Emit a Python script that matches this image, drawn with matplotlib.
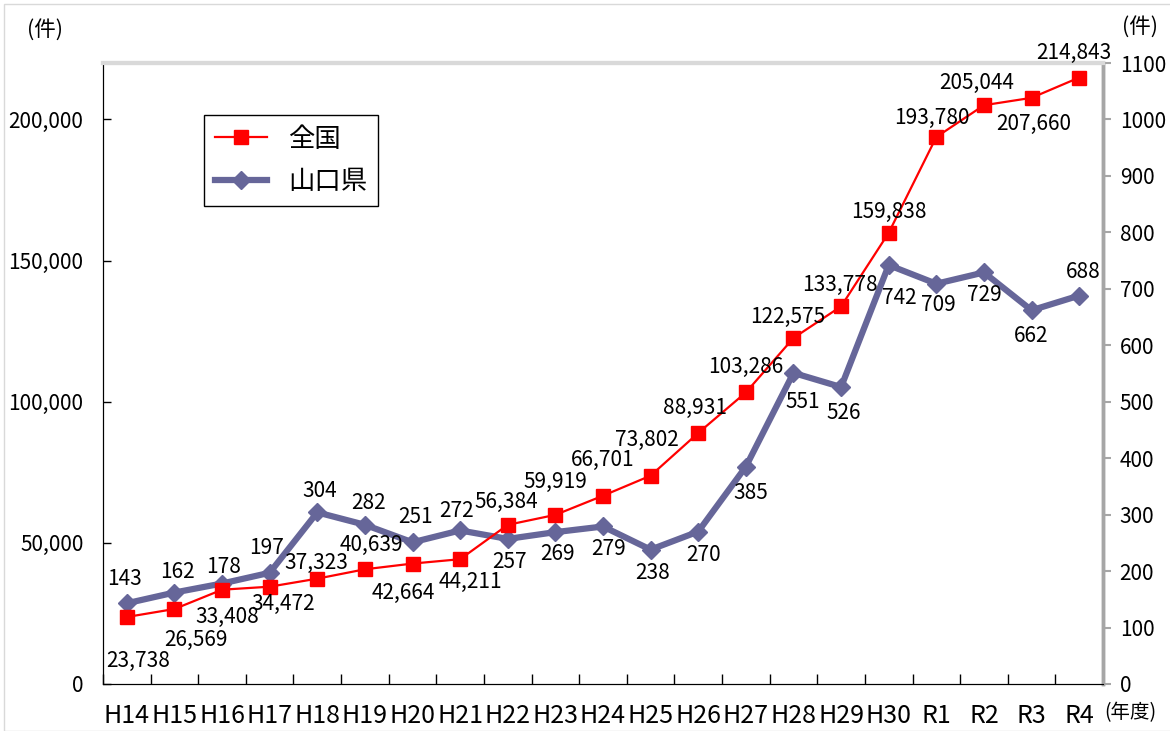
import numpy as np
import matplotlib
matplotlib.use('Agg')
import matplotlib.pyplot as plt
from matplotlib.ticker import FuncFormatter, MultipleLocator
from matplotlib.patches import Rectangle

plt.rcParams['font.family'] = ['Noto Sans CJK JP', 'DejaVu Sans']

#------------------
# data
#------------------
years = ['H14', 'H15', 'H16', 'H17', 'H18', 'H19', 'H20', 'H21', 'H22', 'H23', 'H24',
         'H25', 'H26', 'H27', 'H28', 'H29', 'H30', 'R1', 'R2', 'R3', 'R4']
zenkoku = [23738, 26569, 33408, 34472, 37323, 40639, 42664, 44211, 56384, 59919, 66701,
           73802, 88931, 103286, 122575, 133778, 159838, 193780, 205044, 207660, 214843]
yamaguchi = [143, 162, 178, 197, 304, 282, 251, 272, 257, 269, 279,
             238, 270, 385, 551, 526, 742, 709, 729, 662, 688]

# label offsets in pixels (dx, dy), dy positive = up
zen_off = [(11, -44), (22, -31), (5, -27), (14, -17), (-1, 16), (7, 24), (-9, -29),
           (10, -23), (-1, 23), (0, 33), (0, 36), (-4, 36), (-3, 25), (0, 25),
           (-6, 21), (-1, 21), (0, 21), (-4, 19), (-7, 22), (2, -26), (-5, 25)]
yam_off = [(-2, 24), (3, 21), (2, 17), (-3, 25), (2, 21), (4, 22), (3, 25), (-4, 19),
           (2, -23), (2, -22), (6, -23), (2, -23), (5, -23), (5, -26), (9, -29),
           (3, -26), (11, -33), (2, -21), (0, -23), (0, -26), (4, 24)]

red = '#ff0000'
navy = '#666699'

fig = plt.figure(figsize=(11.7, 7.31), dpi=100)
ax = fig.add_axes([103 / 1170, 1 - 684 / 731, (1103 - 103) / 1170, (684 - 63) / 731])
ax2 = ax.twinx()
ax.set_zorder(ax2.get_zorder() + 1)
ax.patch.set_visible(False)

x = np.arange(len(years))

l2, = ax2.plot(x, yamaguchi, color=navy, lw=4.5, marker='D', markersize=9.5,
               markeredgecolor=navy, label='山口県', zorder=3)
l1, = ax.plot(x, zenkoku, color=red, lw=1.6, marker='s', markersize=10,
              markeredgecolor=red, label='全国', zorder=4)

ax.set_xlim(-0.5, len(years) - 0.5)
ax.set_ylim(0, 220000)
ax2.set_ylim(0, 1100)

ax.yaxis.set_major_locator(MultipleLocator(50000))
ax.yaxis.set_major_formatter(FuncFormatter(lambda v, p: f'{int(v):,}'))
ax2.yaxis.set_major_locator(MultipleLocator(100))

ax.set_xticks(x)
ax.set_xticklabels(years, fontsize=18)
ax.set_xticks(np.arange(len(years) + 1) - 0.5, minor=True)
ax.tick_params(axis='x', which='major', length=0, pad=14)
ax.tick_params(axis='x', which='minor', direction='in', length=7, width=1, color='black')
ax.tick_params(axis='y', direction='in', length=6, width=1, labelsize=15, pad=14)
ax2.tick_params(axis='y', direction='out', length=6, width=1.5, color='#a6a6a6',
                labelsize=15, pad=6)

for a in (ax, ax2):
    a.spines['left'].set_color('black')
    a.spines['bottom'].set_color('black')
    a.spines['top'].set_color('#d9d9d9')
    a.spines['top'].set_linewidth(3)
    a.spines['right'].set_color('#a6a6a6')
    a.spines['right'].set_linewidth(2.5)

for i, v in enumerate(zenkoku):
    ax.annotate(f'{v:,}', (x[i], v), xytext=zen_off[i], textcoords='offset pixels',
                ha='center', va='center', fontsize=15, zorder=6)
for i, v in enumerate(yamaguchi):
    ax2.annotate(f'{v}', (x[i], v), xytext=yam_off[i], textcoords='offset pixels',
                 ha='center', va='center', fontsize=15, zorder=6)

fig.text(45 / 1170, 1 - 30 / 731, '(件)', ha='center', va='center', fontsize=15.5)
fig.text(1140 / 1170, 1 - 27 / 731, '(件)', ha='center', va='center', fontsize=15.5)
fig.text(1130 / 1170, 1 - 713 / 731, '(年度)', ha='center', va='center', fontsize=14)

leg = ax.legend(handles=[l1, l2], loc='upper left',
                bbox_to_anchor=(204 / 1170, 1 - 115 / 731), bbox_transform=fig.transFigure,
                borderaxespad=0, fancybox=False, edgecolor='black', framealpha=1,
                fontsize=19, handlelength=2.0, labelspacing=0.6, borderpad=0.4)
leg.get_frame().set_linewidth(1)
leg.set_zorder(10)

fig.patches.append(Rectangle((4 / 1170, 0), 1, 1 - 4 / 731, transform=fig.transFigure,
                             fill=False, edgecolor='#d9d9d9', lw=1))

fig.savefig('out.png', dpi=100)
